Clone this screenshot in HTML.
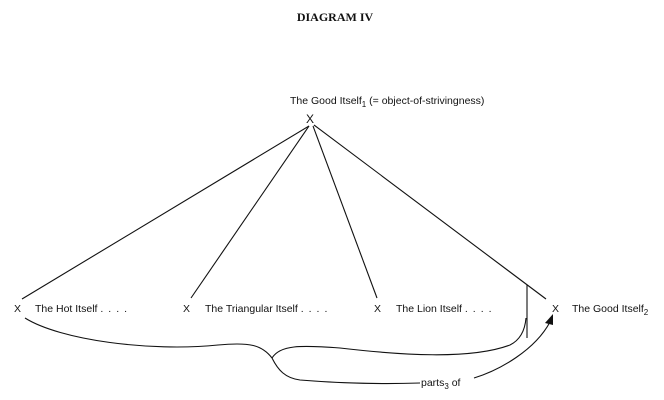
<!DOCTYPE html>
<html><head><meta charset="utf-8"><style>
html,body{margin:0;padding:0;background:#fff;}
svg{display:block;}
text{font-family:"Liberation Sans",sans-serif;font-size:10.5px;fill:#111;}
</style></head><body>
<svg width="664" height="400" viewBox="0 0 664 400">
<text x="335" y="21" text-anchor="middle" style="font-family:'Liberation Serif',serif;font-weight:bold;font-size:12px">DIAGRAM IV</text>
<text x="290" y="104">The Good Itself<tspan font-size="8" dy="3">1</tspan><tspan dy="-3">  (= object-of-strivingness)</tspan></text>
<text x="306" y="123" style="font-size:12px">X</text>
<g stroke="#111" stroke-width="1.1" fill="none">
<line x1="309" y1="126" x2="22" y2="299"/>
<line x1="309" y1="126" x2="191" y2="298"/>
<line x1="313" y1="126" x2="377" y2="298"/>
<line x1="314" y1="125" x2="546" y2="299"/>
<line x1="527" y1="285" x2="527" y2="338"/>
<path d="M25,318 C60,340 150,352 218,345 C250,342 262,345 272,358"/>
<path d="M272,358 C280,345 300,345 340,348 C400,355 470,360 510,345 C520,340 525,330 526,318"/>
<path d="M272,358 C278,370 285,378 300,380 C350,384 390,384 420,383"/>
<path d="M474,378 C500,370 535,350 550,322"/>
</g>
<path d="M553,314 L545,323 L553,325 Z" fill="#111"/>
<g style="font-size:12px">
<text x="14" y="312">X</text>
<text x="183" y="312">X</text>
<text x="374" y="312">X</text>
<text x="552" y="312">X</text>
</g>
<text x="35" y="312">The Hot Itself <tspan letter-spacing="5">....</tspan></text>
<text x="205" y="312">The Triangular Itself <tspan letter-spacing="5">....</tspan></text>
<text x="396" y="312">The Lion Itself <tspan letter-spacing="5">....</tspan></text>
<text x="572" y="312">The Good Itself<tspan font-size="8" dy="3">2</tspan></text>
<text x="421" y="386">parts<tspan font-size="8" dy="3">3</tspan><tspan dy="-3"> of</tspan></text>
</svg>
</body></html>
